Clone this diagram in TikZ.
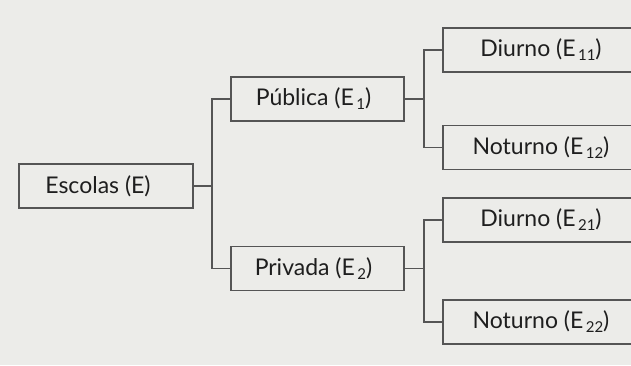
\documentclass[tikz,border=0pt]{standalone}
\usepackage{fontspec}
\setmainfont{Lato}
\definecolor{paper}{RGB}{236,236,233}
\definecolor{ink}{RGB}{30,30,30}
\definecolor{linec}{RGB}{85,85,85}
\newcommand{\sbx}[1]{\kern2.5pt\raisebox{-4pt}{\fontsize{15}{15}\selectfont #1}}
\tikzset{
  boxnode/.style={draw=linec, line width=1.6pt, minimum height=44pt, inner sep=0pt,
    text=ink, font=\fontsize{23}{26}\selectfont},
  conn/.style={draw=linec, line width=1.4pt}
}
\begin{document}
\begin{tikzpicture}[x=1pt,y=1pt]
\useasboundingbox (0,0) rectangle (631,365);
\fill[paper] (0,0) rectangle (631,365);
\clip (0,0) rectangle (631,365);
\node[boxnode, minimum width=174pt] (esc) at (106,179) {\kern-16pt Escolas (E)};
\node[boxnode, minimum width=173pt] (pub) at (317.5,266) {\kern-8pt Pública (E\sbx{1})};
\node[boxnode, minimum width=173pt] (pri) at (317.5,96.5) {\kern-8pt Privada (E\sbx{2})};
\node[boxnode, minimum width=196pt] (d11) at (541,315) {Diurno (E\sbx{11})};
\node[boxnode, minimum width=196pt] (n12) at (541,217.5) {Noturno (E\sbx{12})};
\node[boxnode, minimum width=196pt] (d21) at (541,145) {Diurno (E\sbx{21})};
\node[boxnode, minimum width=196pt] (n22) at (541,43) {Noturno (E\sbx{22})};
\coordinate (j1) at (212,0);
\coordinate (j2) at (424,0);
\draw[conn] (esc.east) -- (esc.east -| j1);
\draw[conn] (pub.west) -- (pub.west -| j1) -- (pri.west -| j1) -- (pri.west);
\draw[conn] (pub.east) -- (pub.east -| j2);
\draw[conn] (d11.west) -- (d11.west -| j2) -- (n12.west -| j2) -- (n12.west);
\draw[conn] (pri.east) -- (pri.east -| j2);
\draw[conn] (d21.west) -- (d21.west -| j2) -- (n22.west -| j2) -- (n22.west);
\end{tikzpicture}
\end{document}
